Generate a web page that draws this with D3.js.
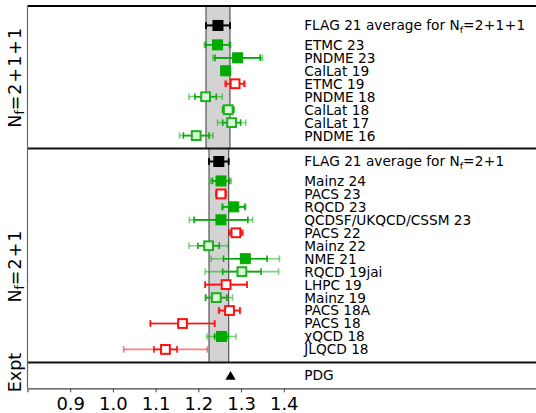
<!DOCTYPE html>
<html>
<head>
<meta charset="utf-8">
<script src="https://cdn.jsdelivr.net/npm/d3@7/dist/d3.min.js"></script>
<style>
  body { margin: 0; background: #fff; }
  svg { display: block; font-family: "DejaVu Sans", Verdana, sans-serif; }
</style>
</head>
<body>
<svg id="chart" width="536" height="413"></svg>
<script>
// ---- Nf = 2+1+1 lattice results for gA ----
const names4  = ["ETMC 23", "PNDME 23", "CalLat 19", "ETMC 19", "PNDME 18", "CalLat 18", "CalLat 17", "PNDME 16"];
const gA4     = [1.245, 1.292, 1.264, 1.286, 1.217, 1.270, 1.278, 1.195];
const stat4   = [0.028, 0.053, 0.009, 0.021, 0.025, 0.013, 0.021, 0.030];
const totLo4  = [0.031, 0.058, 0.009, 0.024, 0.039, 0.013, 0.033, 0.039];
const totHi4  = [0.031, 0.058, 0.009, 0.024, 0.039, 0.013, 0.033, 0.039];
const status4 = ["used", "used", "used", "fail", "pass", "pass", "pass", "pass"];
const avg4    = 1.246, avgErr4 = 0.028;

// ---- Nf = 2+1 lattice results for gA ----
const names3  = ["Mainz 24", "PACS 23", "RQCD 23", "QCDSF/UKQCD/CSSM 23", "PACS 22", "Mainz 22", "NME 21",
                 "RQCD 19jai", "LHPC 19", "Mainz 19", "PACS 18A", "PACS 18", "\u03C7QCD 18", "JLQCD 18"];
const gA3     = [1.253, 1.253, 1.283, 1.253, 1.288, 1.224, 1.310, 1.302, 1.265, 1.242, 1.273, 1.163, 1.254, 1.123];
const stat3   = [0.020, 0.011, 0.026, 0.063, 0.014, 0.025, 0.051, 0.045, 0.049, 0.025, 0.024, 0.075, 0.016, 0.027];
const totLo3  = [0.024, 0.012, 0.028, 0.074, 0.017, 0.046, 0.080, 0.086, 0.049, 0.025, 0.026, 0.076, 0.034, 0.098];
const totHi3  = [0.024, 0.012, 0.028, 0.074, 0.017, 0.046, 0.080, 0.086, 0.049, 0.038, 0.026, 0.076, 0.034, 0.098];
const status3 = ["used", "fail", "used", "used", "fail", "pass", "used", "pass", "fail", "pass", "fail", "fail", "used", "fail"];
const avg3    = 1.248, avgErr3 = 0.023;

// ---- experiment ----
const pdgValue = 1.2754;

// ---- axis ----
const xTicks = [0.9, 1.0, 1.1, 1.2, 1.3, 1.4];

const svg = d3.select("#chart");

// horizontal scale in gA, vertical scale in row units
const x = d3.scaleLinear().domain([0.8, 2.0]).range([27.5, 540]);
const y = d3.scaleLinear().domain([0, 29.5]).range([6, 388.3]);

// panel extents in row units
const top4 = 0, bot4 = 11, top3 = 11, bot3 = 27.5, botAll = 29.5;

const styles = {
  used: { fill: "#00aa00", stroke: "#00aa00", sw: 1, err: "#00aa00", faint: "rgba(0,170,0,0.5)", size: 10 },
  pass: { fill: "#d9f7d9", stroke: "#1cb01c", sw: 2, err: "#10a810", faint: "rgba(0,170,0,0.5)", size: 8.8 },
  fail: { fill: "#ffffff", stroke: "#ff1010", sw: 2, err: "#ff1010", faint: "rgba(255,0,0,0.5)", size: 8.8 },
  avg:  { fill: "#000000", stroke: "#000000", sw: 1, err: "#000000", faint: "#000000", size: 10 }
};

// FLAG average bands
function band(v, e, r0, r1) {
  svg.append("rect")
    .attr("x", x(v - e)).attr("y", y(r0))
    .attr("width", x(v + e) - x(v - e)).attr("height", y(r1) - y(r0))
    .attr("fill", "#d3d3d3");
  [v - e, v + e].forEach(b => {
    svg.append("line")
      .attr("x1", x(b)).attr("x2", x(b)).attr("y1", y(r0)).attr("y2", y(r1))
      .attr("stroke", "#555").attr("stroke-width", 1.2);
  });
}
band(avg4, avgErr4, top4, bot4);
band(avg3, avgErr3, top3, bot3);

const marks = svg.append("g");

function capLine(g, xv, yy, color) {
  g.append("line").attr("x1", xv).attr("x2", xv).attr("y1", yy - 3.3).attr("y2", yy + 3.3)
    .attr("stroke", color).attr("stroke-width", 1.6);
}

function point(v, st, lo, hi, row, status) {
  const s = styles[status];
  const yy = y(row);
  const g = marks.append("g");
  // total uncertainty
  g.append("line").attr("x1", x(v - lo)).attr("x2", x(v + hi)).attr("y1", yy).attr("y2", yy)
    .attr("stroke", s.faint).attr("stroke-width", 1.6);
  capLine(g, x(v - lo), yy, s.faint);
  capLine(g, x(v + hi), yy, s.faint);
  // statistical uncertainty
  g.append("line").attr("x1", x(v - st)).attr("x2", x(v + st)).attr("y1", yy).attr("y2", yy)
    .attr("stroke", s.err).attr("stroke-width", 1.6);
  capLine(g, x(v - st), yy, s.err);
  capLine(g, x(v + st), yy, s.err);
  // marker
  g.append("rect")
    .attr("x", x(v) - s.size / 2).attr("y", yy - s.size / 2)
    .attr("width", s.size).attr("height", s.size)
    .attr("fill", s.fill).attr("stroke", s.stroke).attr("stroke-width", s.sw);
}

// averages
point(avg4, avgErr4, avgErr4, avgErr4, 1.5, "avg");
point(avg3, avgErr3, avgErr3, avgErr3, 12, "avg");

// individual results
names4.forEach((n, i) => point(gA4[i], stat4[i], totLo4[i], totHi4[i], 3 + i, status4[i]));
names3.forEach((n, i) => point(gA3[i], stat3[i], totLo3[i], totHi3[i], 13.5 + i, status3[i]));

// PDG value
svg.append("path")
  .attr("d", d3.symbol(d3.symbolTriangle, 46)())
  .attr("transform", `translate(${x(pdgValue)},${y(28.62)})`)
  .attr("fill", "#000");

// labels on the right
const labelX = x(1.448);
const labels = svg.append("g").attr("font-size", "13.7px").attr("fill", "#000");

function flagLabel(row, nfText) {
  const t = labels.append("text").attr("x", labelX).attr("y", y(row)).attr("dy", "0.36em");
  t.append("tspan").text("FLAG 21 average for N");
  t.append("tspan").attr("font-size", "9.5px").attr("dy", 2.5).text("f");
  t.append("tspan").attr("dy", -2.5).attr("letter-spacing", "0.3px").text(nfText);
}
flagLabel(1.5, "=2+1+1");
flagLabel(12, "=2+1");

names4.forEach((n, i) => labels.append("text").attr("x", labelX).attr("y", y(3 + i)).attr("dy", "0.36em").text(n));
names3.forEach((n, i) => labels.append("text").attr("x", labelX).attr("y", y(13.5 + i)).attr("dy", "0.36em").text(n));
labels.append("text").attr("x", labelX).attr("y", y(28.5)).attr("dy", "0.36em").text("PDG");

// panel frames
const frame = svg.append("g");
frame.append("line").attr("x1", x(0.8)).attr("x2", 540).attr("y1", y(top4)).attr("y2", y(top4))
  .attr("stroke", "#000").attr("stroke-width", 2);
[bot4, bot3].forEach(r => {
  frame.append("line").attr("x1", x(0.8)).attr("x2", 540).attr("y1", y(r)).attr("y2", y(r))
    .attr("stroke", "#111").attr("stroke-width", 2);
});
frame.append("line").attr("x1", x(0.8)).attr("x2", x(0.8)).attr("y1", y(top4)).attr("y2", y(botAll))
  .attr("stroke", "#666").attr("stroke-width", 1.2);

// bottom axis
const axis = svg.append("g")
  .attr("transform", `translate(0,${y(botAll)})`)
  .call(d3.axisBottom(x).tickValues(xTicks).tickFormat(d3.format(".1f")).tickSize(4).tickPadding(5));
axis.select(".domain").attr("stroke", "#444").attr("stroke-width", 1.2);
axis.selectAll(".tick line").attr("stroke", "#444").attr("stroke-width", 1);
axis.selectAll(".tick text").attr("font-size", "18px").attr("fill", "#000")
  .attr("font-family", "DejaVu Sans, sans-serif");

// panel titles on the left
function sideLabel(cy, parts) {
  const t = svg.append("text")
    .attr("transform", `translate(21,${cy}) rotate(-90)`)
    .attr("text-anchor", "middle").attr("font-size", "17.5px").attr("fill", "#000");
  parts.forEach(p => {
    const ts = t.append("tspan").text(p.t);
    if (p.sub) ts.attr("font-size", "12px").attr("dy", 3);
    if (p.up) ts.attr("dy", -3).attr("letter-spacing", "1px");
  });
}
sideLabel((y(top4) + y(bot4)) / 2, [{ t: "N" }, { t: "f", sub: true }, { t: "=2+1+1", up: true }]);
sideLabel(266, [{ t: "N" }, { t: "f", sub: true }, { t: "=2+1", up: true }]);
sideLabel(372.5, [{ t: "Expt" }]);
</script>
</body>
</html>
